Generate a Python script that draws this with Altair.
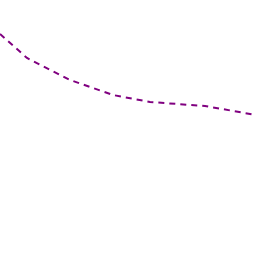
import altair as alt
import pandas as pd

xs = [0, 27, 70, 113, 150, 205, 256]
ys = [222, 198, 176, 161, 154, 150, 141]

df = pd.DataFrame({"x": xs, "y": ys})

chart = alt.Chart(df).mark_line(
    color="#800080", strokeDash=[6, 5], strokeWidth=2
).encode(
    x=alt.X("x:Q", scale=alt.Scale(domain=[0, 256], nice=False, zero=False), axis=None),
    y=alt.Y("y:Q", scale=alt.Scale(domain=[0, 256], nice=False, zero=False), axis=None),
).properties(
    width=256, height=256, padding=0,
    autosize=alt.AutoSizeParams(type="none"),
).configure_view(stroke=None)

chart.save("out.html", embed_options={"renderer": "svg", "actions": False})
